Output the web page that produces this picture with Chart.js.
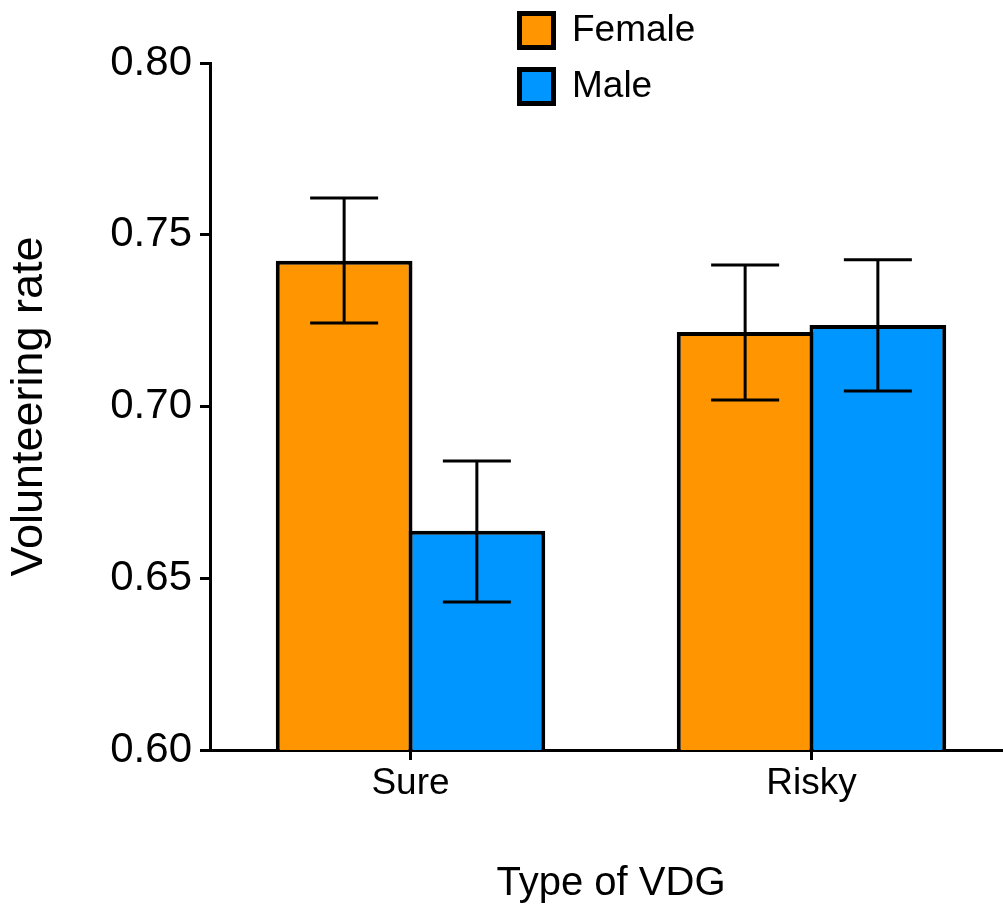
<!DOCTYPE html>
<html>
<head>
<meta charset="utf-8">
<script src="https://cdn.jsdelivr.net/npm/chart.js@4"></script>
<style>
  html, body { margin: 0; padding: 0; background: #fff; overflow: hidden; }
  #wrap { position: relative; width: 1003px; height: 912px; overflow: hidden; }
  #chart { position: absolute; left: 0; top: 0; }
  .leg { position: absolute; left: 517px; font-family: "Liberation Sans", Arial, sans-serif; font-size: 37px; color: #000; }
  .leg span.box { position: absolute; left: 0; top: 0; width: 29px; height: 29px; border: 5px solid #000; }
  .leg span.txt { position: absolute; left: 55px; top: -1px; white-space: nowrap; line-height: 38px; }
</style>
</head>
<body>
<div id="wrap">
  <canvas id="chart" width="1013" height="912"></canvas>
  <div class="leg" style="top:11px"><span class="box" style="background:#FF9500"></span><span class="txt">Female</span></div>
  <div class="leg" style="top:67px"><span class="box" style="background:#0096FF"></span><span class="txt">Male</span></div>
</div>
<script>
// data
const categories = ['Sure', 'Risky'];
const femaleRate = [0.7424, 0.7217];
const femaleHigh = [0.7607, 0.7412];
const femaleLow  = [0.7243, 0.7019];
const maleRate = [0.6638, 0.7237];
const maleHigh = [0.6841, 0.7427];
const maleLow  = [0.6431, 0.7045];
const yTicks = [0.60, 0.65, 0.70, 0.75, 0.80];

const colorOrange = '#FF9500';
const colorBlue = '#0096FF';
const fontFamily = '"Liberation Sans", Arial, sans-serif';

// error bars drawn from the y scale
const errorBars = {
    id: 'errorBars',
    afterDatasetsDraw(chart) {
        const ctx = chart.ctx;
        const y = chart.scales.y;
        chart.data.datasets.forEach((ds, i) => {
            const meta = chart.getDatasetMeta(i);
            meta.data.forEach((bar, j) => {
                const hi = y.getPixelForValue(ds.errHigh[j]);
                const lo = y.getPixelForValue(ds.errLow[j]);
                ctx.save();
                ctx.strokeStyle = '#000';
                ctx.lineWidth = 3;
                ctx.beginPath();
                ctx.moveTo(bar.x, hi); ctx.lineTo(bar.x, lo);
                ctx.moveTo(bar.x - 34, hi); ctx.lineTo(bar.x + 34, hi);
                ctx.moveTo(bar.x - 34, lo); ctx.lineTo(bar.x + 34, lo);
                ctx.stroke();
                ctx.restore();
            });
        });
    }
};

new Chart(document.getElementById('chart'), {
    type: 'bar',
    data: {
        labels: categories,
        datasets: [{
            label: 'Female',
            data: femaleRate,
            errHigh: femaleHigh,
            errLow: femaleLow,
            backgroundColor: colorOrange,
            borderColor: '#000',
            borderWidth: 4,
            borderSkipped: 'bottom'
        }, {
            label: 'Male',
            data: maleRate,
            errHigh: maleHigh,
            errLow: maleLow,
            backgroundColor: colorBlue,
            borderColor: '#000',
            borderWidth: 4,
            borderSkipped: 'bottom'
        }]
    },
    options: {
        responsive: false,
        animation: false,
        layout: { padding: { top: 63, left: 0, right: 1, bottom: 0 } },
        datasets: { bar: { categoryPercentage: 0.662, barPercentage: 1.03 } },
        scales: {
            x: {
                afterFit: s => { s.height = 162; },
                grid: { offset: false, drawOnChartArea: false, tickLength: 10, tickColor: '#000', tickWidth: 3 },
                border: { color: '#000', width: 3 },
                ticks: { color: '#000', font: { family: fontFamily, size: 37 }, padding: 2 },
                title: { display: true, text: 'Type of VDG', color: '#000', font: { family: fontFamily, size: 40 }, padding: { top: 0, bottom: 4 } }
            },
            y: {
                min: 0.6,
                max: 0.8,
                afterFit: s => { s.width = 210; },
                afterBuildTicks: s => { s.ticks = yTicks.map(v => ({ value: v })); },
                grid: { drawOnChartArea: false, tickLength: 10, tickColor: '#000', tickWidth: 3 },
                border: { color: '#000', width: 3 },
                ticks: { color: '#000', font: { family: fontFamily, size: 42 }, padding: 8, callback: v => v.toFixed(2) },
                title: { display: true, text: 'Volunteering rate', color: '#000', font: { family: fontFamily, size: 45 }, padding: { top: 3, bottom: 0 } }
            }
        },
        plugins: {
            legend: { display: false },
            tooltip: { enabled: false }
        }
    },
    plugins: [errorBars]
});
</script>
</body>
</html>
